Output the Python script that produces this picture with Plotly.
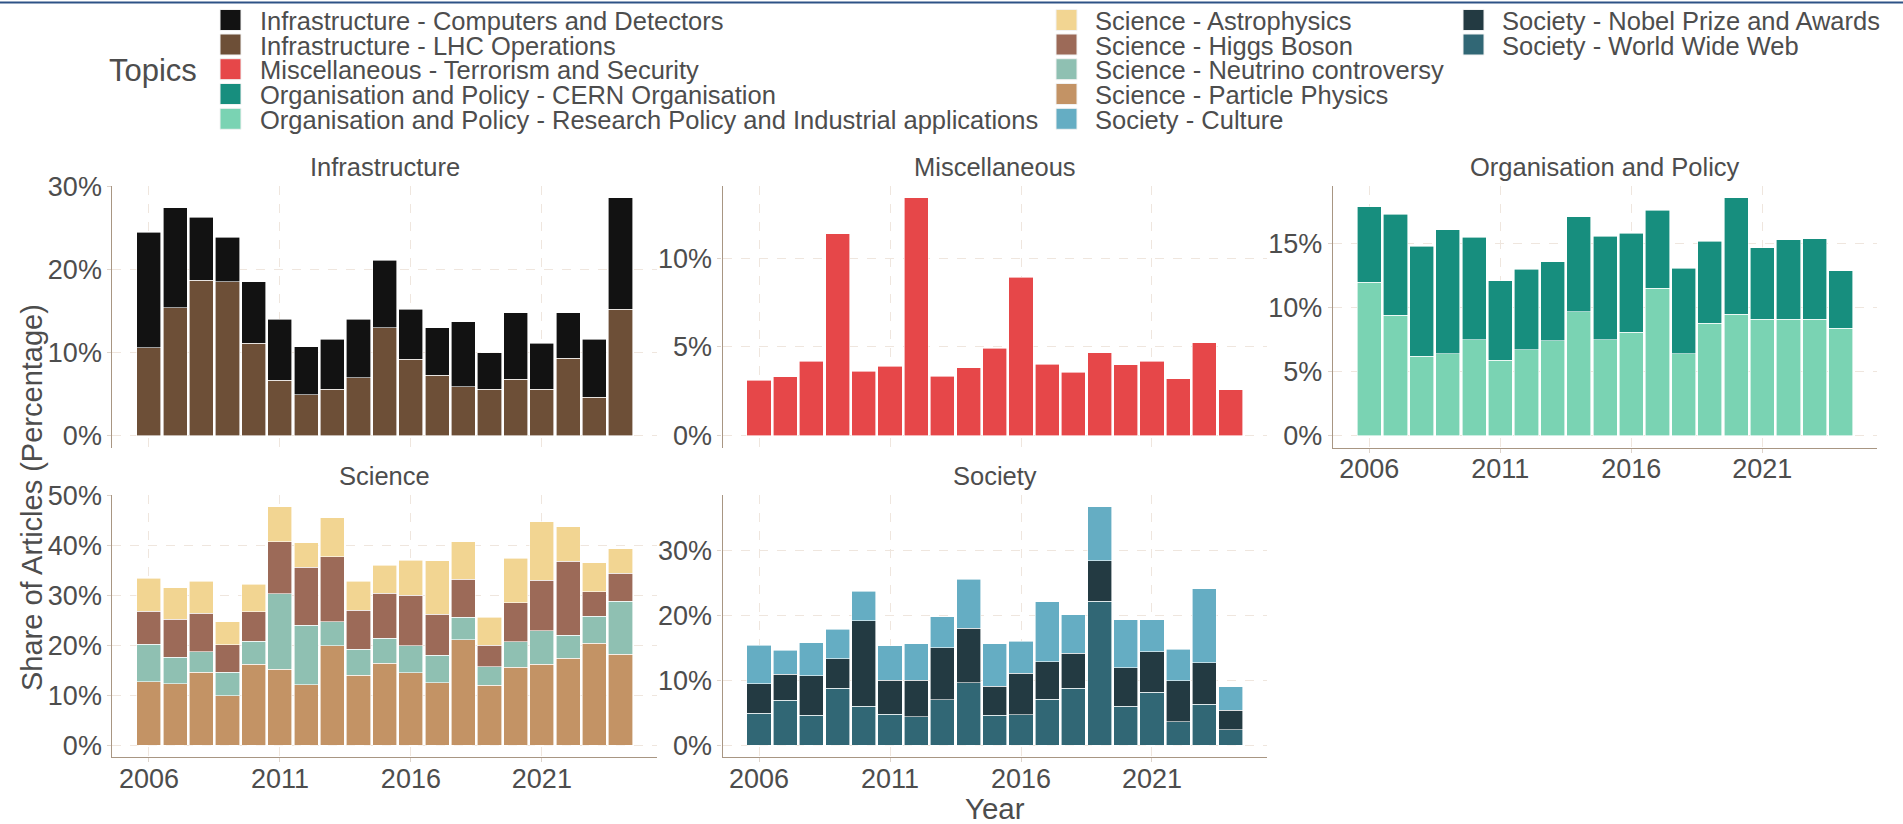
import plotly.graph_objects as go

# ---------------- data ----------------
years = list(range(2006, 2025))
x_tick_years = [2006, 2011, 2016, 2021]

infra_lhc = [10.6, 15.4, 18.7, 18.5, 11.1, 6.7, 4.9, 5.6, 7.0, 13.0, 9.2, 7.3, 5.9, 5.6, 6.8, 5.6, 9.3, 4.6, 15.2]
infra_comp = [13.9, 12.0, 7.6, 5.4, 7.4, 7.3, 5.8, 6.0, 7.0, 8.1, 6.0, 5.7, 7.8, 4.4, 8.0, 5.5, 5.5, 7.0, 13.45]

misc_terror = [3.12, 3.33, 4.21, 11.39, 3.63, 3.91, 13.42, 3.36, 3.83, 4.94, 8.93, 4.04, 3.59, 4.68, 4.00, 4.21, 3.20, 5.23, 2.58]

org_research = [12.0, 9.4, 6.2, 6.4, 7.5, 5.9, 6.7, 7.4, 9.7, 7.5, 8.1, 11.5, 6.4, 8.8, 9.5, 9.1, 9.1, 9.1, 8.4]
org_cern = [5.9, 7.9, 8.6, 9.7, 8.0, 6.2, 6.3, 6.2, 7.4, 8.1, 7.7, 6.1, 6.7, 6.4, 9.1, 5.6, 6.2, 6.3, 4.5]

sci_particle = [12.7, 12.3, 14.6, 9.9, 16.2, 15.2, 12.1, 19.9, 14.0, 16.4, 14.5, 12.5, 21.1, 12.0, 15.6, 16.2, 17.4, 20.4, 18.2]
sci_neutrino = [7.5, 5.3, 4.1, 4.7, 4.6, 15.1, 11.9, 4.8, 5.2, 5.0, 5.4, 5.5, 4.5, 3.7, 5.1, 6.7, 4.6, 5.4, 10.6]
sci_higgs = [6.6, 7.6, 7.7, 5.5, 5.9, 10.4, 11.6, 13.0, 7.8, 9.0, 10.1, 8.2, 7.6, 4.3, 7.8, 10.1, 14.8, 4.9, 5.6]
sci_astro = [6.6, 6.3, 6.4, 4.6, 5.5, 7.0, 4.9, 7.8, 5.8, 5.6, 7.0, 10.7, 7.5, 5.6, 8.9, 11.7, 6.9, 5.8, 4.9]

soc_www = [4.9, 6.9, 4.6, 8.8, 6.0, 4.8, 4.4, 7.0, 9.6, 4.6, 4.7, 7.1, 8.8, 22.2, 6.0, 8.2, 3.6, 6.3, 2.4]
soc_nobel = [4.6, 4.0, 6.1, 4.5, 13.2, 5.2, 5.6, 8.0, 8.4, 4.5, 6.4, 5.8, 5.4, 6.2, 5.9, 6.2, 6.3, 6.4, 3.0]
soc_culture = [5.9, 3.7, 5.1, 4.6, 4.5, 5.3, 5.6, 4.8, 7.6, 6.5, 4.9, 9.2, 5.9, 8.3, 7.4, 4.9, 4.9, 11.4, 3.6]

panel_titles = ["Infrastructure", "Miscellaneous", "Organisation and Policy", "Science", "Society"]

topic_labels = [
    "Infrastructure - Computers and Detectors",
    "Infrastructure - LHC Operations",
    "Miscellaneous - Terrorism and Security",
    "Organisation and Policy - CERN Organisation",
    "Organisation and Policy - Research Policy and Industrial applications",
    "Science - Astrophysics",
    "Science - Higgs Boson",
    "Science - Neutrino controversy",
    "Science - Particle Physics",
    "Society - Culture",
    "Society - Nobel Prize and Awards",
    "Society - World Wide Web",
]
topic_colors = {
    "Infrastructure - Computers and Detectors": "#121212",
    "Infrastructure - LHC Operations": "#6d4f37",
    "Miscellaneous - Terrorism and Security": "#e64749",
    "Organisation and Policy - CERN Organisation": "#178e7e",
    "Organisation and Policy - Research Policy and Industrial applications": "#7ad3b3",
    "Science - Astrophysics": "#f2d592",
    "Science - Higgs Boson": "#9c6a58",
    "Science - Neutrino controversy": "#8fc0b2",
    "Science - Particle Physics": "#c39365",
    "Society - Culture": "#65adc3",
    "Society - Nobel Prize and Awards": "#233a42",
    "Society - World Wide Web": "#316775",
}

# panel index -> list of (label, values) bottom to top
panels = [
    [(topic_labels[1], infra_lhc), (topic_labels[0], infra_comp)],
    [(topic_labels[2], misc_terror)],
    [(topic_labels[4], org_research), (topic_labels[3], org_cern)],
    [(topic_labels[8], sci_particle), (topic_labels[7], sci_neutrino), (topic_labels[6], sci_higgs), (topic_labels[5], sci_astro)],
    [(topic_labels[11], soc_www), (topic_labels[10], soc_nobel), (topic_labels[9], soc_culture)],
]
y_dticks = [10, 5, 5, 10, 10]

# ---------------- layout geometry (pixels) ----------------
W, H = 1903, 824
FONT = "Liberation Sans, Arial, sans-serif"
TXT = "#4d4d4d"
GRID = "#efe6de"
AXIS = "#a89683"
TICKSIZE = 27

def fx(px):
    return px / W

def fy(py):
    return 1 - py / H

col_px = [(112.4, 657.0), (722.5, 1267.1), (1332.8, 1877.4)]
row_px = [(185.7, 447.6), (495.0, 757.2)]
panel_pos = [(0, 0), (0, 1), (0, 2), (1, 0), (1, 1)]
title_y = [166.7, 476.0]
has_xaxis = [False, False, True, True, True]

fig = go.Figure()
layout = dict(
    width=W, height=H,
    margin=dict(l=0, r=0, t=0, b=0, autoexpand=False),
    paper_bgcolor="white", plot_bgcolor="white",
    barmode="stack", bargap=0.08,
    showlegend=False,
    font=dict(family=FONT, color=TXT, size=25),
)
annotations = []
shapes = []

for i, stack in enumerate(panels):
    ax = "" if i == 0 else str(i + 1)
    for label, vals in stack:
        fig.add_trace(go.Bar(
            x=years, y=vals, name=label,
            marker=dict(color=topic_colors[label], line=dict(color="white", width=0.6)),
            xaxis="x" + ax, yaxis="y" + ax,
            hovertemplate="%{x}: %{y:.1f}%<extra>" + label + "</extra>",
        ))
    totals = [sum(v) for v in zip(*[s[1] for s in stack])]
    ymax = max(totals)
    r, c = panel_pos[i]
    x0, x1 = col_px[c]
    y0, y1 = row_px[r]
    layout["xaxis" + ax] = dict(
        domain=[fx(x0), fx(x1)],
        anchor="y" + ax,
        automargin=False,
        range=[2004.605, 2025.395],
        tickmode="array", tickvals=x_tick_years,
        showticklabels=has_xaxis[i],
        ticks="outside" if has_xaxis[i] else "",
        ticklen=4, tickcolor="#ddd3ca",
        ticklabelstandoff=-7,
        showline=has_xaxis[i], linecolor=AXIS, linewidth=1.2,
        showgrid=True, gridcolor=GRID, griddash="dash", gridwidth=1,
        zeroline=False,
        tickfont=dict(size=TICKSIZE, color=TXT, family=FONT),
    )
    layout["yaxis" + ax] = dict(
        domain=[fy(y1), fy(y0)],
        anchor="x" + ax,
        automargin=False,
        range=[-0.05 * ymax, 1.05 * ymax],
        dtick=y_dticks[i], tick0=0, ticksuffix="%",
        ticks="outside", ticklen=4, tickcolor="#ddd3ca",
        showline=True, linecolor=AXIS, linewidth=1.2,
        showgrid=True, gridcolor=GRID, griddash="dash", gridwidth=1,
        zeroline=False,
        tickfont=dict(size=TICKSIZE, color=TXT, family=FONT),
    )
    annotations.append(dict(
        text=panel_titles[i], xref="paper", yref="paper",
        x=fx((x0 + x1) / 2), y=fy(title_y[r]), xanchor="center", yanchor="middle",
        showarrow=False, font=dict(size=25.5, color=TXT, family=FONT),
    ))

# axis titles
annotations.append(dict(text="Year", xref="paper", yref="paper", x=fx(995), y=fy(808),
                        xanchor="center", yanchor="middle", showarrow=False,
                        font=dict(size=29.5, color=TXT, family=FONT)))
annotations.append(dict(text="Share of Articles (Percentage)", xref="paper", yref="paper",
                        x=fx(32), y=fy(498), xanchor="center", yanchor="middle", textangle=-90,
                        showarrow=False, font=dict(size=29, color=TXT, family=FONT)))

# legend (drawn manually in three columns, column-major like the reference)
annotations.append(dict(text="Topics", xref="paper", yref="paper", x=fx(107), y=fy(70.5),
                        xanchor="left", yanchor="middle", showarrow=False,
                        font=dict(size=31, color=TXT, family=FONT)))
legend_cols = [(220.0, 258.0), (1056.0, 1093.0), (1463.0, 1500.0)]
row_centers = [20.0, 44.5, 69.2, 94.0, 118.8]
key = 21.0
for idx, label in enumerate(topic_labels):
    c = idx // 5
    r = idx % 5
    kx, tx = legend_cols[c]
    cy = row_centers[r]
    shapes.append(dict(type="rect", xref="paper", yref="paper",
                       x0=fx(kx), x1=fx(kx + key), y0=fy(cy + key / 2), y1=fy(cy - key / 2),
                       fillcolor=topic_colors[label], line=dict(color="#f2f2f2", width=1)))
    annotations.append(dict(text=label, xref="paper", yref="paper", x=fx(tx), y=fy(cy + 1),
                            xanchor="left", yanchor="middle", showarrow=False,
                            font=dict(size=25.5, color=TXT, family=FONT)))

# thin blue rule at the very top
shapes.append(dict(type="line", xref="paper", yref="paper", x0=0, x1=1,
                   y0=fy(2.5), y1=fy(2.5), line=dict(color="#2e5286", width=2)))

layout["annotations"] = annotations
layout["shapes"] = shapes
fig.update_layout(**layout)
fig.write_html("out.html")
